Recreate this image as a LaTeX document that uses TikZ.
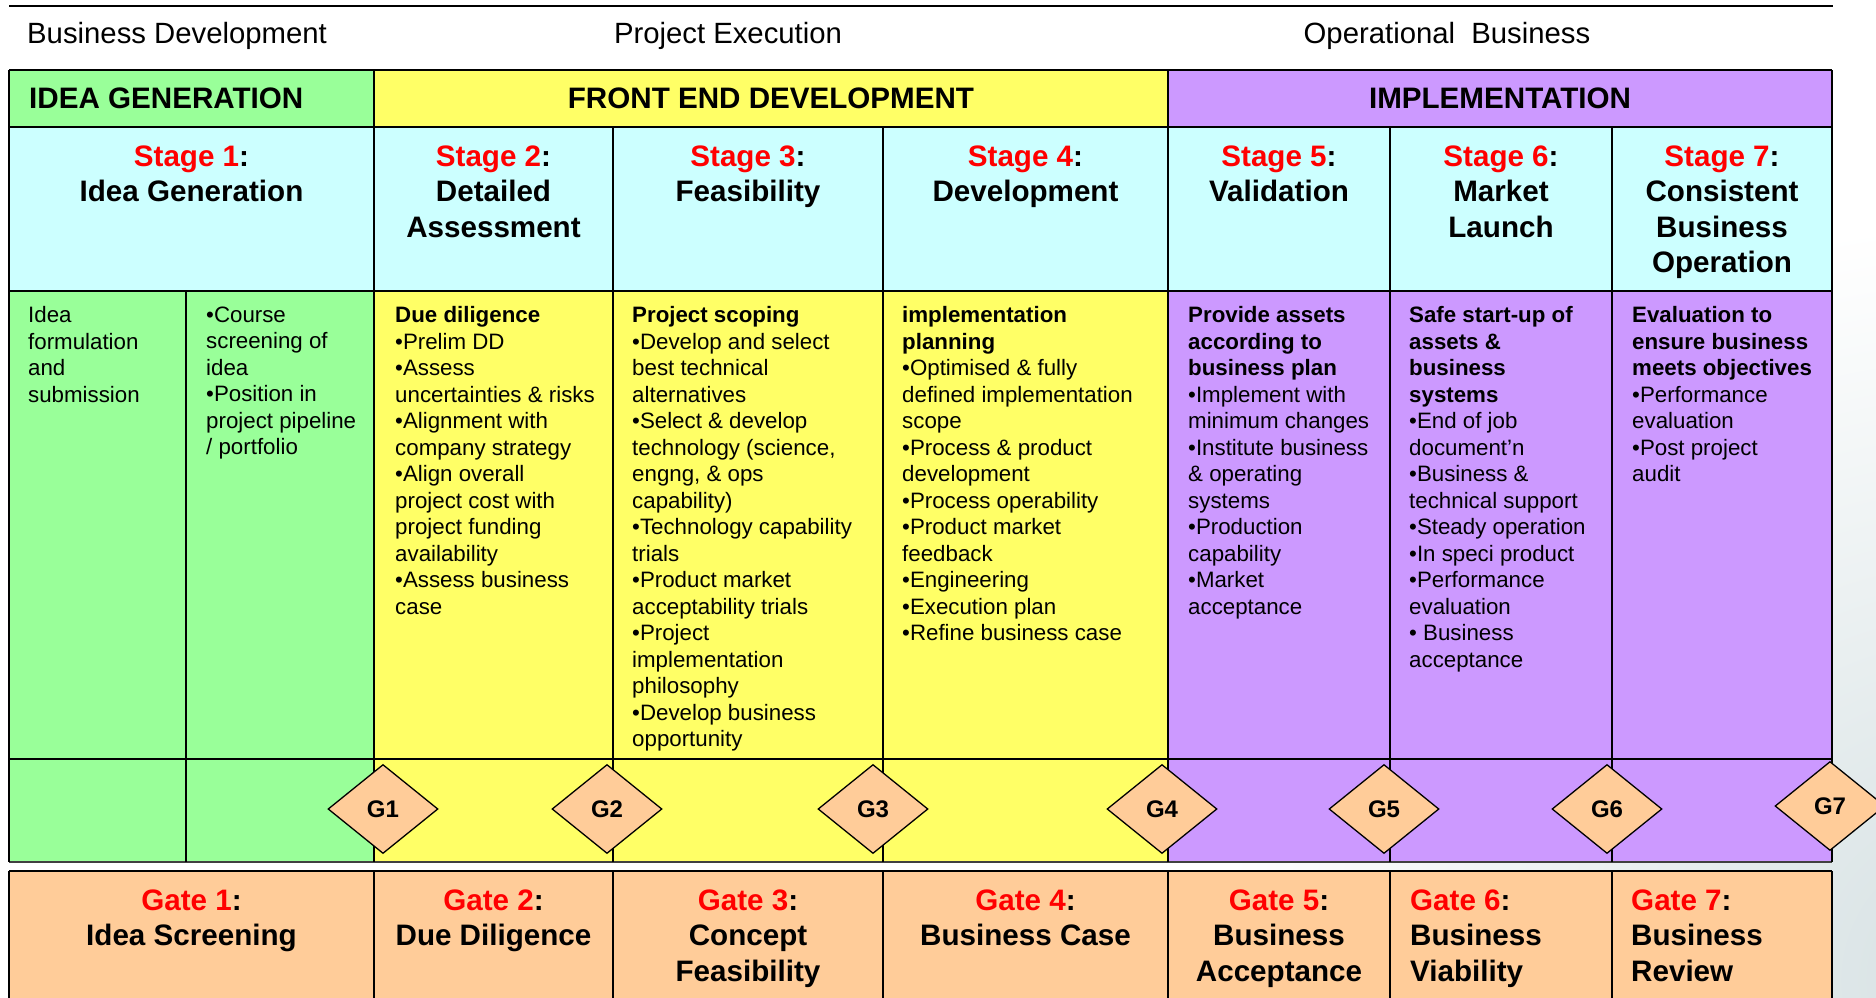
\documentclass[tikz,border=0pt]{standalone}
\usepackage{fontspec}
\setmainfont{Liberation Sans}
\usetikzlibrary{shapes.geometric}
\definecolor{cgreen}{HTML}{99FF99}
\definecolor{cyellow}{HTML}{FFFF66}
\definecolor{cpurple}{HTML}{CC99FF}
\definecolor{ccyan}{HTML}{CCFFFF}
\definecolor{corange}{HTML}{FFCC99}
\definecolor{cred}{HTML}{FF0000}
\definecolor{bgtint}{HTML}{D6E1E3}
\tikzset{
  bodytext/.style={anchor=north west, align=left, inner sep=0pt, font=\fontsize{22.3}{26.5}\selectfont, execute at begin node=\rule{0pt}{18pt}},
  titletext/.style={anchor=north, align=center, inner sep=0pt, font=\fontsize{29.6}{35.5}\selectfont\bfseries, execute at begin node=\rule{0pt}{24pt}},
  titleleft/.style={anchor=north west, align=left, inner sep=0pt, font=\fontsize{29.6}{35.5}\selectfont\bfseries, execute at begin node=\rule{0pt}{24pt}},
  headtext/.style={inner sep=0pt, font=\fontsize{29.6}{35.5}\selectfont\bfseries},
  toplabel/.style={inner sep=0pt, font=\fontsize{29.3}{35}\selectfont},
  gatemark/.style={diamond, draw, line width=1.3pt, fill=corange, inner sep=0pt, minimum width=110pt, minimum height=89pt, font=\fontsize{24}{28}\selectfont\bfseries},
  hline/.style={line width=2pt},
  hthick/.style={line width=2.8pt},
  vline/.style={line width=1.8pt},
}
\begin{document}
\begin{tikzpicture}[x=1pt,y=-1pt]
\useasboundingbox (0,0) rectangle (1876,997);
% background tint
\shade[inner color=bgtint, outer color=white] (1980,980) circle (760);
% fills
\fill[cgreen] (9,70) rectangle (374,127);
\fill[cyellow] (374,70) rectangle (1168,127);
\fill[cpurple] (1168,70) rectangle (1832,127);
\fill[ccyan] (9,127) rectangle (1832,291);
\fill[cgreen] (9,291) rectangle (374,862);
\fill[cyellow] (374,291) rectangle (1168,862);
\fill[cpurple] (1168,291) rectangle (1832,862);
\fill[corange] (9,871) rectangle (1832,1000);
% top rule
\draw[hthick] (9,6) -- (1833,6);
% horizontal rules
\draw[hthick] (9,70) -- (1832,70);
\draw[hline] (9,127) -- (1832,127);
\draw[hline] (9,291) -- (1832,291);
\draw[hthick] (9,759) -- (1832,759);
\draw[line width=1.4pt, black!75] (9,862) -- (1832,862);
\draw[hthick] (9,871) -- (1832,871);
% verticals
\foreach \x in {9,374,1168,1832} \draw[vline] (\x,70) -- (\x,862);
\foreach \x in {613,883,1390,1612} \draw[vline] (\x,127) -- (\x,862);
\draw[vline] (186,291) -- (186,862);
\foreach \x in {9,374,613,883,1168,1390,1612,1832} \draw[vline] (\x,871) -- (\x,1000);
% top labels
\node[toplabel, anchor=base west] (lbd) at (27,43) {Business Development};
\node[toplabel, anchor=base] (lpe) at (728,43) {Project Execution};
\node[toplabel, anchor=base] (lob) at (1447,43) {Operational\ \ Business};
% phase headers
\node[headtext, anchor=base west] (hidea) at (29,108) {IDEA GENERATION};
\node[headtext, anchor=base] (hfront) at (771,108) {FRONT END DEVELOPMENT};
\node[headtext, anchor=base] (himpl) at (1500,108) {IMPLEMENTATION};
% stage titles
\node[titletext] (st1) at (191.5,145.5) {\textcolor{cred}{Stage 1}:\\Idea Generation};
\node[titletext] (st2) at (493.5,145.5) {\textcolor{cred}{Stage 2}:\\Detailed\\Assessment};
\node[titletext] (st3) at (748,145.5) {\textcolor{cred}{Stage 3}:\\Feasibility};
\node[titletext] (st4) at (1025.5,145.5) {\textcolor{cred}{Stage 4}:\\Development};
\node[titletext] (st5) at (1279,145.5) {\textcolor{cred}{Stage 5}:\\Validation};
\node[titletext] (st6) at (1501,145.5) {\textcolor{cred}{Stage 6}:\\Market\\Launch};
\node[titletext] (st7) at (1722,145.5) {\textcolor{cred}{Stage 7}:\\Consistent\\Business\\Operation};
% body texts
\node[bodytext] (b1a) at (28,306.5) {Idea\\formulation\\and\\submission};
\node[bodytext] (b1b) at (206,306.5) {•Course\\screening of\\idea\\•Position in\\project pipeline\\/ portfolio};
\node[bodytext] (b2) at (395,306.5) {\textbf{Due diligence}\\•Prelim DD\\•Assess\\uncertainties \& risks\\•Alignment with\\company strategy\\•Align overall\\project cost with\\project funding\\availability\\•Assess business\\case};
\node[bodytext] (b3) at (632,306.5) {\textbf{Project scoping}\\•Develop and select\\best technical\\alternatives\\•Select \& develop\\technology (science,\\engng, \& ops\\capability)\\•Technology capability\\trials\\•Product market\\acceptability trials\\•Project\\implementation\\philosophy\\•Develop business\\opportunity};
\node[bodytext] (b4) at (902,306.5) {\textbf{implementation}\\\textbf{planning}\\•Optimised \& fully\\defined implementation\\scope\\•Process \& product\\development\\•Process operability\\•Product market\\feedback\\•Engineering\\•Execution plan\\•Refine business case};
\node[bodytext] (b5) at (1188,306.5) {\textbf{Provide assets}\\\textbf{according to}\\\textbf{business plan}\\•Implement with\\minimum changes\\•Institute business\\\& operating\\systems\\•Production\\capability\\•Market\\acceptance};
\node[bodytext] (b6) at (1409,306.5) {\textbf{Safe start-up of}\\\textbf{assets \&}\\\textbf{business}\\\textbf{systems}\\•End of job\\document’n\\•Business \&\\technical support\\•Steady operation\\•In speci product\\•Performance\\evaluation\\• Business\\acceptance};
\node[bodytext] (b7) at (1632,306.5) {\textbf{Evaluation to}\\\textbf{ensure business}\\\textbf{meets objectives}\\•Performance\\evaluation\\•Post project\\audit};
% gate diamonds
\node[gatemark] (g1) at (383,809) {G1};
\node[gatemark] (g2) at (607,809) {G2};
\node[gatemark] (g3) at (873,809) {G3};
\node[gatemark] (g4) at (1162,809) {G4};
\node[gatemark] (g5) at (1384,809) {G5};
\node[gatemark] (g6) at (1607,809) {G6};
\node[gatemark] (g7) at (1830,806) {G7};
% gate titles
\node[titletext] (gt1) at (191.5,889.5) {\textcolor{cred}{Gate 1}:\\Idea Screening};
\node[titletext] (gt2) at (493.5,889.5) {\textcolor{cred}{Gate 2}:\\Due Diligence};
\node[titletext] (gt3) at (748,889.5) {\textcolor{cred}{Gate 3}:\\Concept\\Feasibility};
\node[titletext] (gt4) at (1025.5,889.5) {\textcolor{cred}{Gate 4}:\\Business Case};
\node[titletext] (gt5) at (1279,889.5) {\textcolor{cred}{Gate 5}:\\Business\\Acceptance};
\node[titleleft] (gt6) at (1410,889.5) {\textcolor{cred}{Gate 6}:\\Business\\Viability};
\node[titleleft] (gt7) at (1631,889.5) {\textcolor{cred}{Gate 7}:\\Business\\Review};
\end{tikzpicture}
\end{document}
